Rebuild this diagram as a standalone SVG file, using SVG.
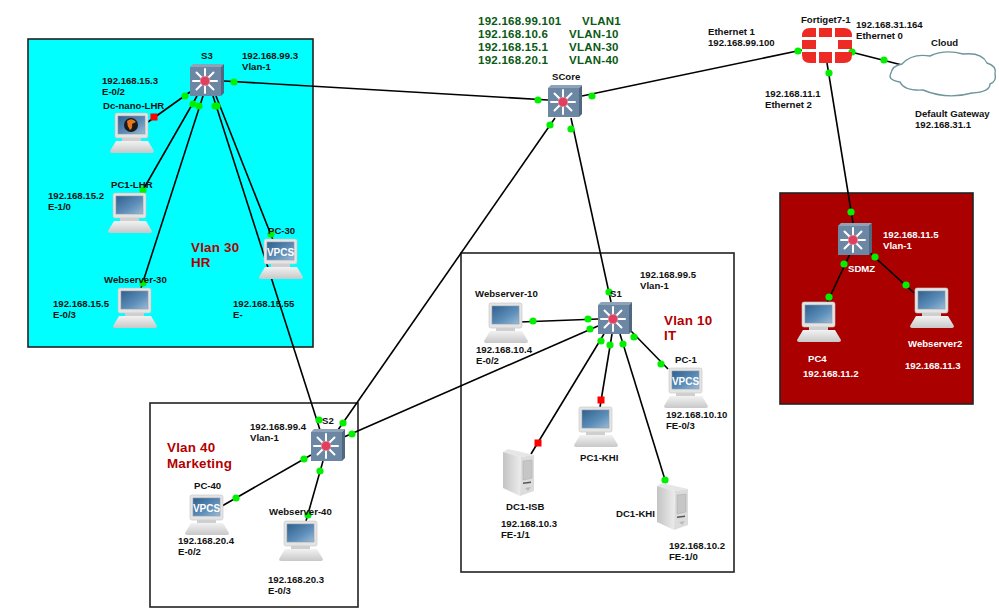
<svg xmlns="http://www.w3.org/2000/svg" xmlns:xlink="http://www.w3.org/1999/xlink" width="999" height="610" viewBox="0 0 999 610">
<style>
text{font-family:"Liberation Sans",Arial,sans-serif;font-weight:700;font-size:9.6px;fill:#111}
.zone{stroke:#222;stroke-width:1.6}
.vl{font-size:13.4px;letter-spacing:.2px;fill:#b30000}
.gr{font-size:11.5px;letter-spacing:.25px;fill:#0a5a14}
.wt{fill:#fff}
.link line{stroke:#000;stroke-width:1.6}
.g{fill:#00f000}
.r{fill:#ff0000}
.vp{font-size:10px;fill:#fff}
.fg{fill:#ee2a24}
</style>
<defs>
<linearGradient id="scr" x1="0" y1="0" x2="1" y2="1"><stop offset="0" stop-color="#2f5f8c"/><stop offset=".6" stop-color="#5f90bb"/><stop offset="1" stop-color="#9dbbd4"/></linearGradient>
<linearGradient id="bs" x1="0" y1="0" x2="0" y2="1"><stop offset="0" stop-color="#f2f2f2"/><stop offset="1" stop-color="#c8c8c8"/></linearGradient>
<linearGradient id="srv" x1="0" y1="0" x2="1" y2="0"><stop offset="0" stop-color="#c4c4c4"/><stop offset="1" stop-color="#ececec"/></linearGradient>
<symbol id="pc" width="44" height="40" viewBox="0 0 44 40" overflow="visible">
<rect x="5" y="0" width="33" height="25" rx="2" fill="#e4e4e4" stroke="#c4c4c4" stroke-width=".6"/>
<rect x="8" y="3" width="27" height="18" fill="url(#scr)" stroke="#8a9aa8" stroke-width=".6"/>
<rect x="12" y="25" width="19" height="3" fill="#cfcfcf"/>
<path d="M6 28H38L44 38Q44 40 42 40H2Q0 40 0 38Z" fill="url(#bs)"/>
</symbol>
<symbol id="sw" width="34" height="32" viewBox="0 0 34 32" overflow="visible">
<path d="M0 3L3 0H34L31 3Z" fill="#8fa3b8"/>
<path d="M31 3L34 0V29L31 32Z" fill="#4f6880"/>
<rect x="0" y="3" width="31" height="29" fill="#6c87a3"/>
<g stroke="#fff" stroke-width="2" stroke-linecap="round"><path d="M15 5V29M3 17H27M6.500 8.500L23.500 25.500M23.500 8.500L6.500 25.500"/></g>
<circle cx="15" cy="17" r="4.800" fill="#e0405e" stroke="#f0a0b0" stroke-width=".6"/>
</symbol>
<symbol id="srvr" width="32" height="48" viewBox="0 0 32 48" overflow="visible">
<path d="M0 3L5 0L31 6L18 8Z" fill="#e6e6e6"/>
<path d="M0 3L18 8L17 47L0 39Z" fill="url(#srv)"/>
<path d="M18 8L31 6V42L17 47Z" fill="#dcdcdc"/>
<path d="M20 12L29 11V29L20 31Z" fill="#c6c6c6" stroke="#aaa" stroke-width=".5"/>
<path d="M20 33.500L28 32.500V34L20 35Z" fill="#555"/>
<path d="M22 39L28 38L25 42Z" fill="#bbb"/>
</symbol>
</defs>
<rect width="999" height="610" fill="#fff"/>
<rect id="zone-hr" class="zone" x="28" y="39" width="285" height="308" fill="#00ffff"/>
<rect id="zone-it" class="zone" x="461" y="253" width="273" height="319" fill="#fff"/>
<rect id="zone-marketing" class="zone" x="150" y="403" width="208" height="204" fill="#fff"/>
<rect id="zone-dmz" class="zone" x="780" y="193" width="193" height="211" fill="#aa0000"/>
<g id="connectors" class="link">
<line x1="224" y1="81" x2="548" y2="100"/>
<line x1="582" y1="96" x2="802" y2="50"/>
<line x1="851" y1="52" x2="902" y2="65"/>
<line x1="827" y1="63" x2="853" y2="223"/>
<line x1="571" y1="118" x2="611" y2="302"/>
<line x1="555" y1="118" x2="338" y2="430"/>
<line x1="520" y1="322" x2="598" y2="319"/>
<line x1="598" y1="326" x2="344" y2="437"/>
<line x1="604" y1="334" x2="531" y2="454"/>
<line x1="612" y1="334" x2="600" y2="407"/>
<line x1="620" y1="334" x2="666" y2="483"/>
<line x1="630" y1="330" x2="668" y2="369"/>
<line x1="190" y1="92" x2="148" y2="122"/>
<line x1="197" y1="96" x2="143" y2="190"/>
<line x1="203" y1="96" x2="141" y2="288"/>
<line x1="216" y1="96" x2="273" y2="240"/>
<line x1="213" y1="96" x2="320" y2="430"/>
<line x1="311" y1="455" x2="222" y2="506"/>
<line x1="323" y1="461" x2="306" y2="521"/>
<line x1="850" y1="254" x2="826" y2="305"/>
<line x1="869" y1="252" x2="914" y2="293"/>
<g class="g">
<circle cx="234" cy="82" r="3.600"/><circle cx="538" cy="100" r="3.600"/>
<circle cx="592" cy="96" r="3.600"/><circle cx="798" cy="51" r="3.600"/>
<circle cx="852" cy="52" r="3.600"/><circle cx="884" cy="60" r="3.600"/>
<circle cx="829" cy="73" r="3.600"/><circle cx="851" cy="212" r="3.600"/>
<circle cx="571" cy="129" r="3.600"/><circle cx="609" cy="292" r="3.600"/>
<circle cx="550" cy="125" r="3.600"/><circle cx="343" cy="423" r="3.600"/>
<circle cx="533" cy="321" r="3.600"/><circle cx="588" cy="319" r="3.600"/>
<circle cx="590" cy="329" r="3.600"/><circle cx="352" cy="434" r="3.600"/>
<circle cx="601" cy="341" r="3.600"/><circle cx="610" cy="345" r="3.600"/>
<circle cx="623" cy="344" r="3.600"/><circle cx="665" cy="480" r="3.600"/>
<circle cx="634" cy="337" r="3.600"/><circle cx="661" cy="364" r="3.600"/>
<circle cx="185" cy="96" r="3.600"/><circle cx="193" cy="104" r="3.600"/>
<circle cx="143" cy="190" r="3.600"/><circle cx="199" cy="106" r="3.600"/>
<circle cx="143" cy="283" r="3.600"/><circle cx="217" cy="106" r="3.600"/>
<circle cx="215" cy="106" r="3.600"/><circle cx="271" cy="234" r="3.600"/>
<circle cx="319" cy="420" r="3.600"/><circle cx="304" cy="459" r="3.600"/>
<circle cx="236" cy="498" r="3.600"/><circle cx="320" cy="471" r="3.600"/>
<circle cx="308" cy="515" r="3.600"/><circle cx="844" cy="264" r="3.600"/>
<circle cx="829" cy="297" r="3.600"/><circle cx="875" cy="257" r="3.600"/>
<circle cx="906" cy="285" r="3.600"/>
</g>
<g class="r">
<rect x="150.500" y="113.500" width="7" height="7"/>
<rect x="534.500" y="439.500" width="7" height="7"/>
<rect x="597.500" y="396.500" width="7" height="7"/>
</g>
</g>
<g id="S3"><use href="#sw" x="190" y="64"/><text x="201" y="59">S3</text><text x="242" y="59">192.168.99.3</text><text x="242" y="70">Vlan-1</text></g>
<g id="SCore"><use href="#sw" x="548" y="85"/><text x="552" y="80">SCore</text></g>
<g id="S1"><use href="#sw" x="598" y="302"/><text x="610" y="297">S1</text><text x="640" y="278">192.168.99.5</text><text x="640" y="289">Vlan-1</text></g>
<g id="S2"><use href="#sw" x="311" y="429"/><text x="322" y="424">S2</text><text x="250" y="430">192.168.99.4</text><text x="250" y="441">Vlan-1</text></g>
<g id="SDMZ"><use href="#sw" x="838" y="223"/><text class="wt" x="848" y="272">SDMZ</text><text class="wt" x="883" y="238">192.168.11.5</text><text class="wt" x="883" y="249">Vlan-1</text></g>
<g id="Dc-nano-LHR"><use href="#pc" x="110" y="113"/><circle cx="131" cy="125" r="7" fill="#1a1a1a"/><path d="M127 121Q132 117 136 122L132 124Q133 128 130 130Q127 126 127 121Z" fill="#e8761a"/><text x="103" y="109">Dc-nano-LHR</text><text x="102" y="84">192.168.15.3</text><text x="102" y="95">E-0/2</text></g>
<g id="PC1-LHR"><use href="#pc" x="108" y="193"/><text x="111" y="188">PC1-LHR</text><text x="48" y="199">192.168.15.2</text><text x="48" y="210">E-1/0</text></g>
<g id="Webserver-30"><use href="#pc" x="113" y="288"/><text x="104" y="283">Webserver-30</text><text x="53" y="307">192.168.15.5</text><text x="53" y="318">E-0/3</text></g>
<g id="PC-30"><use href="#pc" x="259" y="239"/><text class="vp" x="280.500" y="255.500" text-anchor="middle">VPCS</text><text x="268" y="234">PC-30</text><text x="233" y="307">192.168.15.55</text><text x="233" y="318">E-</text></g>
<g id="Webserver-10"><use href="#pc" x="484" y="303"/><text x="475" y="297">Webserver-10</text><text x="476" y="353">192.168.10.4</text><text x="476" y="364">E-0/2</text></g>
<g id="PC-1"><use href="#pc" x="664" y="368"/><text class="vp" x="685.500" y="384.500" text-anchor="middle">VPCS</text><text x="675" y="363">PC-1</text><text x="666" y="418">192.168.10.10</text><text x="666" y="429">FE-0/3</text></g>
<g id="PC1-KHI"><use href="#pc" x="574" y="407"/><text x="580" y="461">PC1-KHI</text></g>
<g id="DC1-ISB"><use href="#srvr" x="503" y="449"/><text x="506" y="510">DC1-ISB</text><text x="501" y="527">192.168.10.3</text><text x="501" y="538">FE-1/1</text></g>
<g id="DC1-KHI"><use href="#srvr" x="657" y="483"/><text x="616" y="517">DC1-KHI</text><text x="669" y="549">192.168.10.2</text><text x="669" y="560">FE-1/0</text></g>
<g id="PC-40"><use href="#pc" x="185" y="495"/><text class="vp" x="206.500" y="511.500" text-anchor="middle">VPCS</text><text x="194" y="489">PC-40</text><text x="178" y="544">192.168.20.4</text><text x="178" y="555">E-0/2</text></g>
<g id="Webserver-40"><use href="#pc" x="279" y="521"/><text x="269" y="515">Webserver-40</text><text x="268" y="583">192.168.20.3</text><text x="268" y="594">E-0/3</text></g>
<g id="PC4"><use href="#pc" x="797" y="302"/><text class="wt" x="808" y="362">PC4</text><text class="wt" x="803" y="377">192.168.11.2</text></g>
<g id="Webserver2"><use href="#pc" x="910" y="288"/><text class="wt" x="908" y="347">Webserver2</text><text class="wt" x="905" y="369">192.168.11.3</text></g>
<g id="Fortiget7-1">
<path class="fg" d="M802 37V36Q802 28 810 28H816V37Z"/>
<rect class="fg" x="819" y="28" width="13" height="9"/>
<path class="fg" d="M835 28H844Q852 28 852 36V37H835Z"/>
<rect class="fg" x="802" y="40" width="14" height="9"/>
<rect class="fg" x="838" y="40" width="14" height="9"/>
<path class="fg" d="M802 52H816V63H810Q802 63 802 55Z"/>
<rect class="fg" x="819" y="52" width="13" height="11"/>
<path class="fg" d="M835 52H852V55Q852 63 844 63H835Z"/>
<text x="801" y="23">Fortiget7-1</text><text x="856" y="28">192.168.31.164</text><text x="856" y="39">Ethernet 0</text>
<text x="708" y="35">Ethernet 1</text><text x="708" y="46">192.168.99.100</text>
<text x="765" y="97">192.168.11.1</text><text x="765" y="108">Ethernet 2</text>
</g>
<g id="Cloud">
<path d="M902 64Q912 53 930 56Q945 49 963 54Q982 52 987 63Q997 66 995 74Q997 81 990 84Q990 92 972 93Q947 100 923 90Q904 91 900 82Q887 80 891 73Q892 66 902 64Z" fill="#fff" stroke="#6d959c" stroke-width="1.400"/>
<text x="931" y="46">Cloud</text><text x="915" y="117">Default Gateway</text><text x="915" y="128">192.168.31.1</text>
</g>
<g id="labels">
<text class="vl" x="191" y="252">Vlan 30</text><text class="vl" x="191" y="267">HR</text>
<text class="vl" x="664" y="325">Vlan 10</text><text class="vl" x="664" y="340">IT</text>
<text class="vl" x="167" y="452">Vlan 40</text><text class="vl" x="167" y="468">Marketing</text>
<text class="gr" x="478" y="25">192.168.99.101</text><text class="gr" x="582" y="25">VLAN1</text>
<text class="gr" x="478" y="38">192.168.10.6</text><text class="gr" x="569" y="38">VLAN-10</text>
<text class="gr" x="478" y="51">192.168.15.1</text><text class="gr" x="569" y="51">VLAN-30</text>
<text class="gr" x="478" y="64">192.168.20.1</text><text class="gr" x="569" y="64">VLAN-40</text>
</g>
</svg>
